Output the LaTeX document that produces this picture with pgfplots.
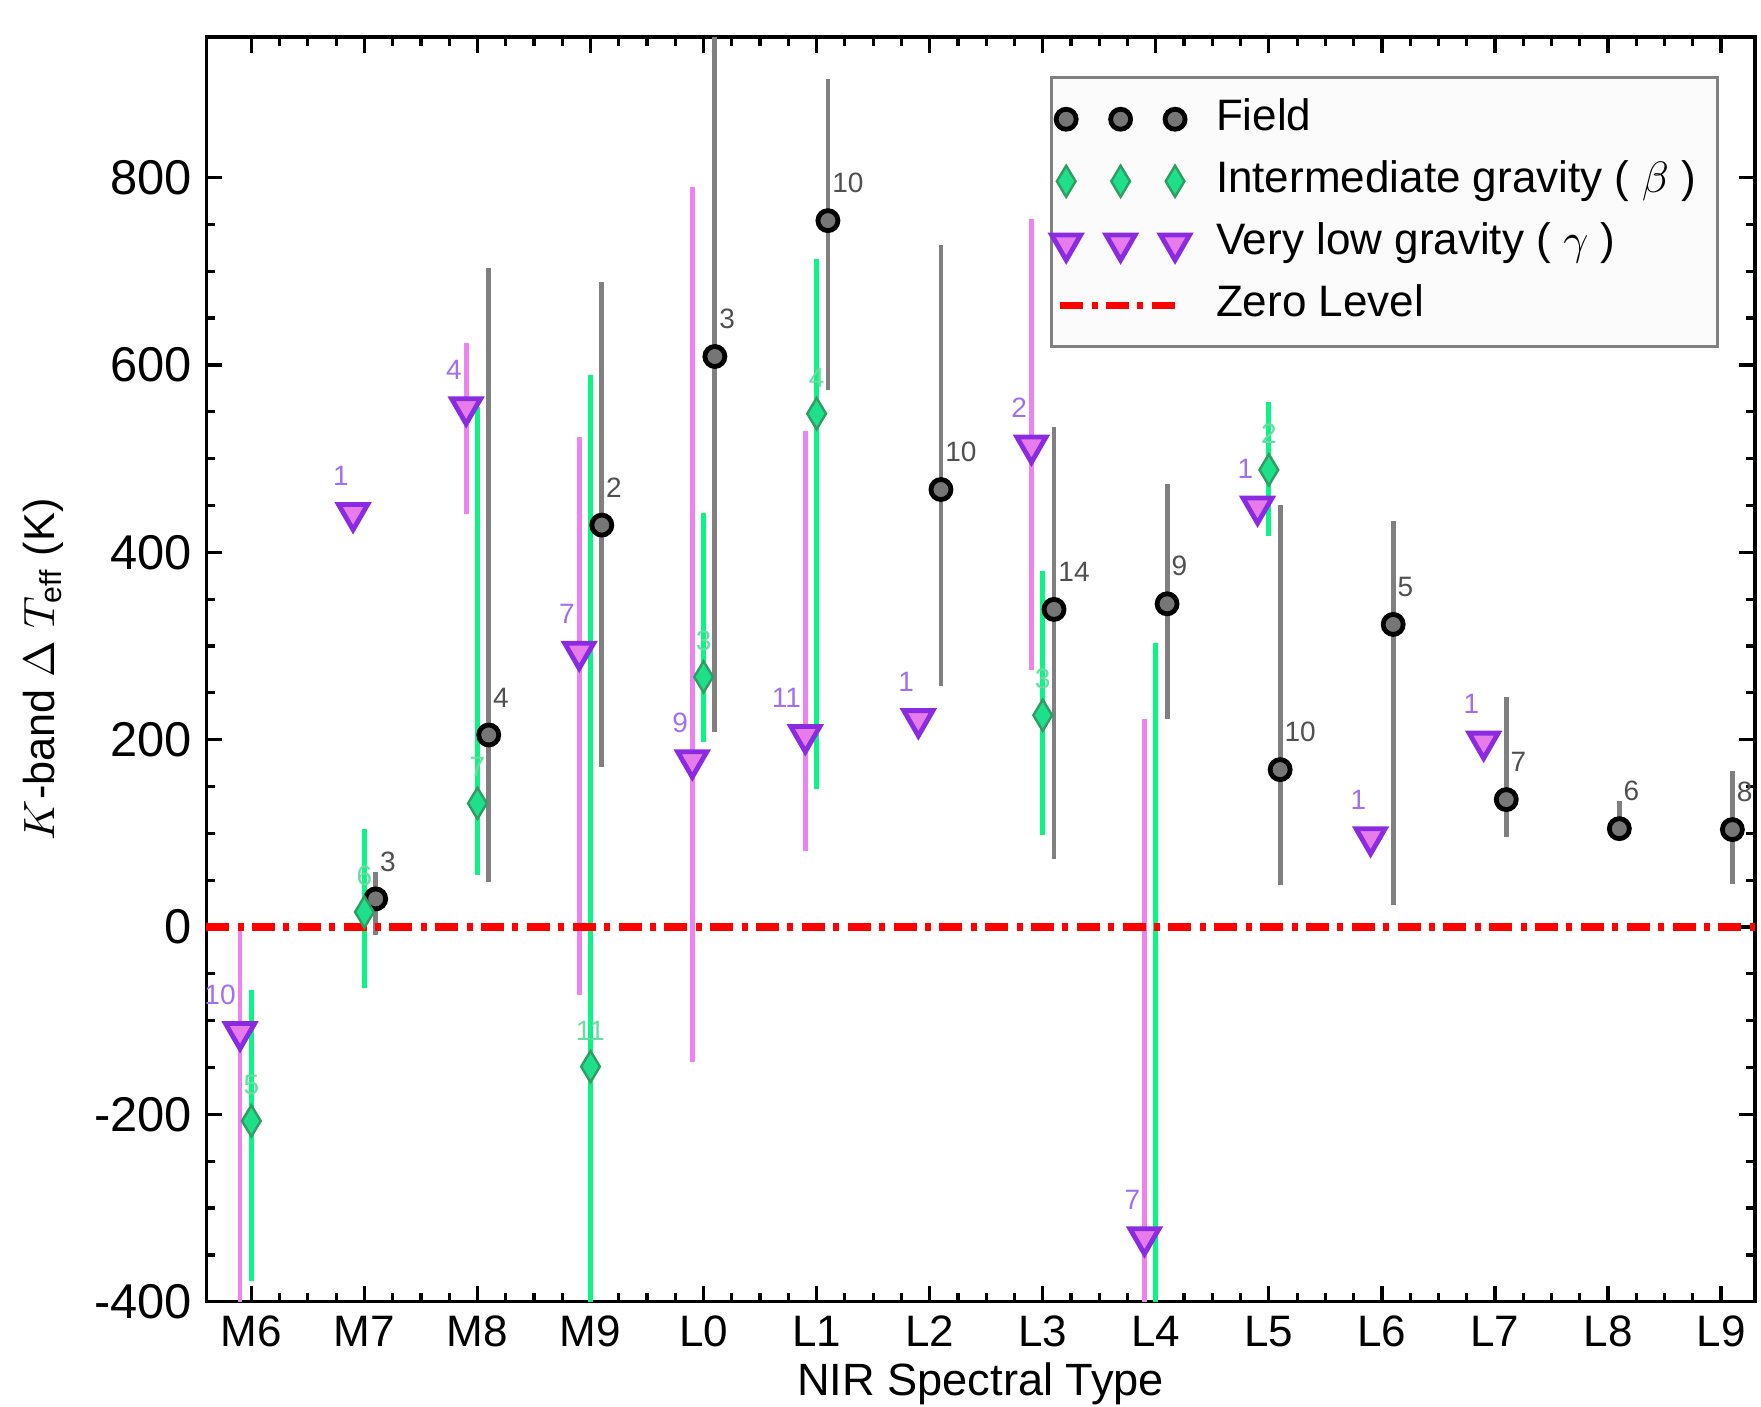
\documentclass[border=0pt]{standalone}
\usepackage{fontspec}
\setmainfont{Liberation Sans}
\usepackage{amsmath}
\usepackage{pgfplots}
\usepackage{pgfplotstable}
\pgfplotsset{compat=1.18}
\usetikzlibrary{calc}

\definecolor{fieldbar}{HTML}{808080}
\definecolor{fieldfill}{HTML}{767676}
\definecolor{fieldtxt}{HTML}{505050}
\definecolor{betabar}{HTML}{0AF585}
\definecolor{betafill}{HTML}{1EE08A}
\definecolor{betaedge}{HTML}{2E9E62}
\definecolor{betatxt}{HTML}{6ADDA3}
\definecolor{gammabar}{HTML}{EE82EE}
\definecolor{gammafill}{HTML}{E87BEA}
\definecolor{gammaedge}{HTML}{8A2BE2}
\definecolor{gammatxt}{HTML}{A070F0}

\pgfplotsset{
    zerostyle/.style={red, line width=1.8pt, dash pattern=on 5.75pt off 2.1pt on 1.5pt off 2.1pt},
    zeroimg/.style={legend image code/.code={\draw[##1] (-1.5pt,0pt) -- (28.5pt,0pt);}},
}

% x = spectral type index (M6 = 0), y = K-band Delta Teff, ep/em = bar ends, n = number of objects
\pgfplotstableread{
x    y    ep   em   n
1.1  30   29   39   3
2.1  205  498  157  4
3.1  429  259  258  2
4.1  609  391  401  3
5.1  754  151  181  10
6.1  467  261  210  10
7.1  339  195  266  14
8.1  345  128  123  9
9.1  168  282  123  10
10.1 323  110  300  5
11.1 136  110  40   7
12.1 105  29   12   6
13.1 104  62   58   8
}\fieldtab

\pgfplotstableread{
x    y     ep   em   n
0    -207  140  171  5
1    16    89   81   6
2    132   423  77   7
3    -149  738  400  11
4    267   175  69   3
5    548   165  401  4
7    226   154  128  3
8    -480  783  100  0
9    488   72   71   2
}\betatab

\pgfplotstableread{
x    y     ep   em   n
-0.1 -112  112  400  10
0.9  442   0    0    1
1.9  555   68   114  4
2.9  294   229  367  7
3.9  178   612  322  9
4.9  205   324  124  11
5.9  222   0    0    1
6.9  514   242  240  2
7.9  -331  553  200  7
8.9  449   0    0    1
9.9  96    0    0    1
10.9 198   0    0    1
}\gammatab

\begin{document}
\begin{tikzpicture}
\begin{axis}[
    name=ax,
    scale only axis,
    width=387pt, height=316pt,
    xmin=-0.4, xmax=13.3,
    ymin=-400, ymax=950,
    xtick={0,...,13},
    xticklabels={M6,M7,M8,M9,L0,L1,L2,L3,L4,L5,L6,L7,L8,L9},
    minor x tick num=3,
    ytick={-400,-200,...,800},
    minor y tick num=3,
    major tick length=4pt,
    minor tick length=2.2pt,
    tick style={black, line width=0.8pt},
    axis line style={line width=0.8pt},
    xticklabel style={font=\fontsize{11}{13}\selectfont},
    yticklabel style={font=\fontsize{12.2}{14}\selectfont},
    /pgf/number format/assume math mode=true,
    xlabel={NIR Spectral Type},
    ylabel={$K$-band $\Delta$ $T_{\text{eff}}$ (K)},
    xlabel style={font=\fontsize{11.3}{13}\selectfont,
        at={(axis description cs:0.5,0)}, anchor=center, yshift=-20.5pt},
    ylabel style={font=\fontsize{10.8}{13}\selectfont,
        at={(axis description cs:0,0.5)}, anchor=center, yshift=40.75pt},
    legend style={
        at={(0.977,0.969)}, anchor=north east,
        draw=gray, fill=gray!3, line width=0.8pt,
        font=\fontsize{11}{13}\selectfont,
        inner xsep=0pt, inner ysep=2.6pt,
        nodes={inner sep=2.5pt, text height=8pt, text depth=2.5pt},
        /tikz/every odd column/.append style={column sep=1.1pt},
        /tikz/every even column/.append style={nodes={inner xsep=5.5pt}},
    },
    legend cell align=left,
    legend image code/.code={
        \draw[#1, mark repeat=1] plot coordinates {(0pt,0pt) (13.6pt,0pt) (27.2pt,0pt)};
    },
    every node near coord/.append style={font=\fontsize{7}{8}\selectfont, inner sep=0pt},
]

% error bars first, behind every marker
\addplot[only marks, mark=none, forget plot,
    error bars/.cd, y dir=both, y explicit, error mark=none,
    error bar style={line width=1.2pt, draw=fieldbar, solid}]
    table[x=x, y=y, y error plus=ep, y error minus=em] {\fieldtab};
\addplot[only marks, mark=none, forget plot,
    error bars/.cd, y dir=both, y explicit, error mark=none,
    error bar style={line width=1.2pt, draw=betabar, solid}]
    table[x=x, y=y, y error plus=ep, y error minus=em] {\betatab};
\addplot[only marks, mark=none, forget plot,
    error bars/.cd, y dir=both, y explicit, error mark=none,
    error bar style={line width=1.2pt, draw=gammabar, solid}]
    table[x=x, y=y, y error plus=ep, y error minus=em] {\gammatab};

% zero level
\addplot[forget plot, zerostyle] coordinates {(-0.4,0) (13.3,0)};

% markers with counts
\addplot[only marks, mark=*, mark size=2.5pt,
    mark options={draw=black, fill=fieldfill, line width=1.2pt},
    point meta=explicit symbolic, nodes near coords,
    nodes near coords style={text=fieldtxt, anchor=south west, xshift=0.5pt, yshift=6.3pt}]
    table[x=x, y=y, meta=n] {\fieldtab};
\addlegendentry{Field}

\addplot[only marks, mark=diamond*, mark size=3.9pt,
    mark options={draw=betaedge, fill=betafill, line width=0.6pt, xscale=0.8},
    restrict y to domain=-400:1000,
    point meta=explicit symbolic, nodes near coords,
    nodes near coords style={text=betatxt, anchor=south, yshift=6.3pt}]
    table[x=x, y=y, meta=n] {\betatab};
\addlegendentry{Intermediate gravity ( $\beta$ )}

\addplot[only marks, mark=triangle*, mark size=4.2pt,
    mark options={draw=gammaedge, fill=gammafill, line width=1.2pt, rotate=180},
    point meta=explicit symbolic, nodes near coords,
    nodes near coords style={text=gammatxt, anchor=south east, xshift=-0.5pt, yshift=6.3pt}]
    table[x=x, y=y, meta=n] {\gammatab};
\addlegendentry{Very low gravity ( $\gamma$ )}

\addlegendimage{zerostyle, zeroimg}
\addlegendentry{Zero Level}
\end{axis}
\pgfresetboundingbox
\path[use as bounding box] ($(ax.south west)+(-51.5pt,-26.25pt)$) rectangle ($(ax.north east)+(1.5pt,9.25pt)$);
\end{tikzpicture}
\end{document}
